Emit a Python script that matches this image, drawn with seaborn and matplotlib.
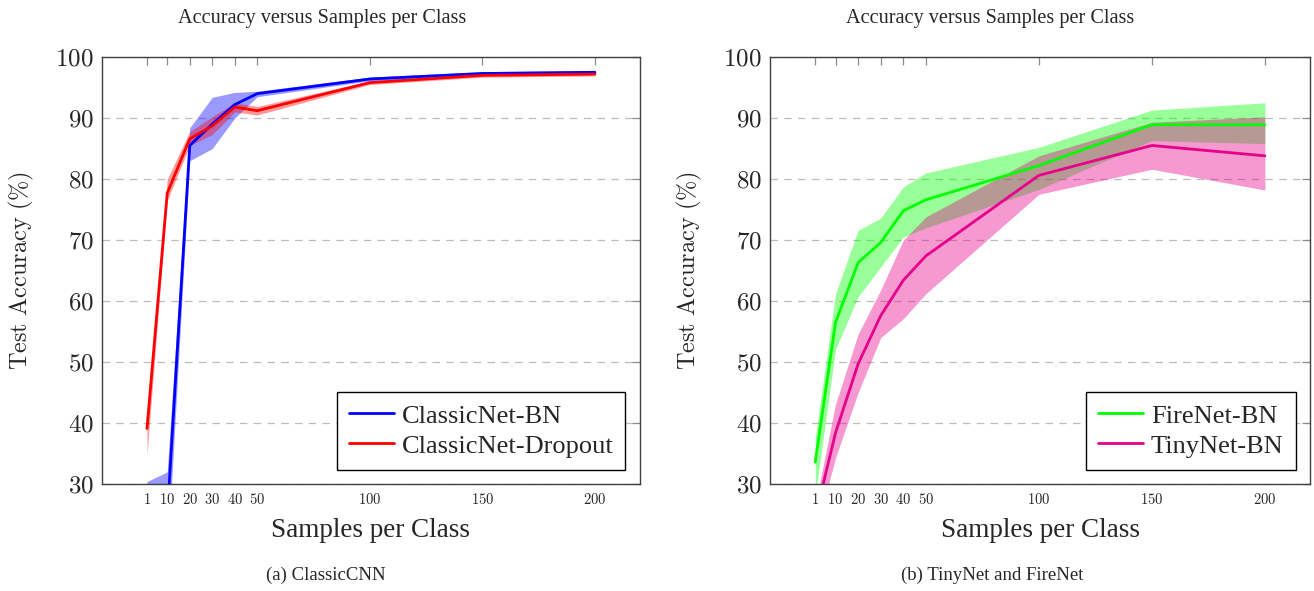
import numpy as np
import pandas as pd
import matplotlib
matplotlib.use("Agg")
import matplotlib.pyplot as plt
import seaborn as sns
from matplotlib.ticker import FuncFormatter

# samples per class (x axis)
samples = [1, 10, 20, 30, 40, 50, 100, 150, 200]
x_ticks = [1, 10, 20, 30, 40, 50, 100, 150, 200]
y_ticks = [30, 40, 50, 60, 70, 80, 90, 100]

# (a) ClassicCNN
bn_mean = [20.0, 24.7, 85.5, 89.0, 92.2, 94.0, 96.4, 97.3, 97.5]
bn_low = [10.0, 17.4, 83.0, 85.0, 90.0, 93.5, 96.1, 97.0, 97.3]
bn_high = [30.4, 32.0, 88.4, 93.4, 94.2, 94.4, 96.7, 97.6, 97.8]

drop_mean = [39.1, 77.7, 86.6, 88.7, 91.8, 91.2, 95.8, 97.0, 97.2]
drop_low = [34.8, 76.5, 85.5, 87.3, 91.0, 90.5, 95.5, 96.7, 96.9]
drop_high = [39.6, 80.0, 87.8, 90.2, 92.5, 91.9, 96.1, 97.3, 97.5]

# (b) TinyNet and FireNet
fire_mean = [33.6, 56.5, 66.3, 69.6, 74.8, 76.6, 82.2, 88.9, 88.9]
fire_low = [28.0, 52.1, 60.7, 65.6, 70.5, 72.0, 78.3, 86.3, 85.8]
fire_high = [37.6, 61.2, 71.6, 73.6, 78.7, 81.0, 85.2, 91.3, 92.5]

tiny_mean = [24.6, 38.4, 49.7, 57.6, 63.4, 67.4, 80.6, 85.5, 83.8]
tiny_low = [21.7, 34.3, 45.0, 54.0, 57.1, 61.2, 77.5, 81.6, 78.2]
tiny_high = [26.5, 43.1, 54.6, 61.8, 70.0, 73.8, 83.8, 89.3, 90.2]

sns.set_style("white")
plt.rcParams["font.family"] = ["Liberation Serif", "DejaVu Serif"]
plt.rcParams["mathtext.fontset"] = "cm"

fig = plt.figure(figsize=(13.14, 5.91), dpi=100)
ax1 = fig.add_axes([0.0776, 0.181, 0.4094, 0.7225])
ax2 = fig.add_axes([0.586, 0.181, 0.411, 0.7225])


def panel(ax, series, colors):
    # bands first, lines on top
    for name, mean, low, high in series:
        ax.fill_between(samples, low, high, color=colors[name], alpha=0.4, linewidth=0)
    rows = []
    for name, mean, low, high in series:
        for s, m in zip(samples, mean):
            rows.append({"samples": s, "acc": m, "model": name})
    df = pd.DataFrame(rows)
    names = [s[0] for s in series]
    sns.lineplot(data=df, x="samples", y="acc", hue="model", hue_order=names,
                 palette=colors, linewidth=2.0, errorbar=None, ax=ax)

    ax.set_xlim(-19, 220)
    ax.set_ylim(30, 100)
    ax.set_xticks(x_ticks)
    ax.set_yticks(y_ticks)
    ax.xaxis.set_major_formatter(FuncFormatter(lambda v, p: f"${v:g}$"))
    ax.yaxis.set_major_formatter(FuncFormatter(lambda v, p: f"${v:g}$"))
    ax.tick_params(axis="x", labelsize=10.5, pad=6)
    ax.tick_params(axis="y", labelsize=18, pad=6)
    ax.tick_params(direction="in", top=True, right=True, length=6,
                   width=0.9, color="#8c8c8c")
    ax.grid(axis="y", color="#bdbdbd", linestyle=(0, (6, 5)), linewidth=0.9)
    ax.set_axisbelow(True)
    for sp in ax.spines.values():
        sp.set_color("#404040")
        sp.set_linewidth(1.0)

    ax.set_xlabel("Samples per Class", fontsize=19.5)
    ax.xaxis.set_label_coords(0.5, -0.108)
    ax.xaxis.label.set_va("center")
    ax.set_ylabel(r"$\mathrm{Test\ Accuracy\ (\%)}$", fontsize=17.5)
    ax.yaxis.set_label_coords(-0.15, 0.5)
    ax.yaxis.label.set_va("center")

    leg = ax.legend(loc="lower right", fontsize=19, frameon=True, fancybox=False,
                    framealpha=1, edgecolor="black", borderaxespad=0.55,
                    handlelength=1.7, handletextpad=0.3, labelspacing=0.25,
                    borderpad=0.45)
    leg.get_frame().set_linewidth(1.0)
    leg.set_title(None)


panel(ax1,
      [("ClassicNet-BN", bn_mean, bn_low, bn_high),
       ("ClassicNet-Dropout", drop_mean, drop_low, drop_high)],
      {"ClassicNet-BN": "#0000ff", "ClassicNet-Dropout": "#ff0000"})
panel(ax2,
      [("FireNet-BN", fire_mean, fire_low, fire_high),
       ("TinyNet-BN", tiny_mean, tiny_low, tiny_high)],
      {"FireNet-BN": "#00ff00", "TinyNet-BN": "#e6008a"})

fig.text(0.245, 1 - 19 / 591, "Accuracy versus Samples per Class", fontsize=14.6,
         ha="center", va="center")
fig.text(0.7535, 1 - 19 / 591, "Accuracy versus Samples per Class", fontsize=14.6,
         ha="center", va="center")
fig.text(0.248, 1 - 575 / 591, "(a) ClassicCNN", fontsize=13.5, ha="center", va="center")
fig.text(0.755, 1 - 575 / 591, "(b) TinyNet and FireNet", fontsize=13.5, ha="center", va="center")

fig.savefig("out.png", dpi=100)
